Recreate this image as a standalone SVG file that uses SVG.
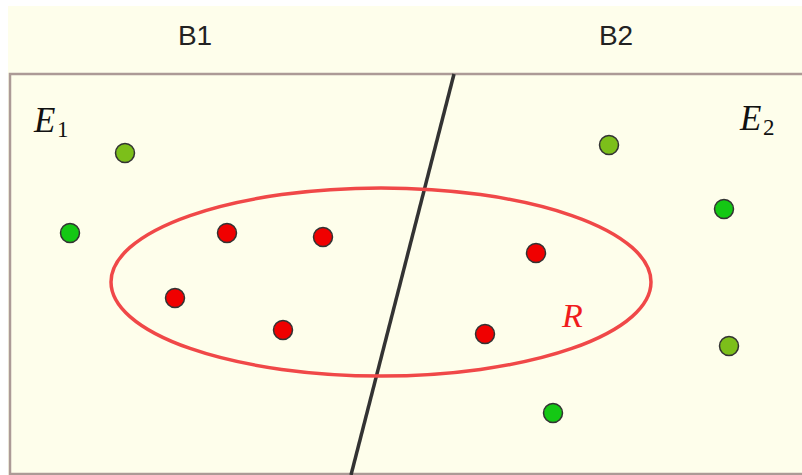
<svg xmlns="http://www.w3.org/2000/svg" width="802" height="475" viewBox="0 0 802 475">
<style>
.hdr{font-family:"Liberation Sans",Arial,sans-serif;font-size:28px;fill:#222;text-anchor:middle}
.math{font-family:"Liberation Serif","Times New Roman",serif;font-style:italic;font-size:35px;fill:#111}
.sub{font-family:"Liberation Serif","Times New Roman",serif;font-size:23px;fill:#111}
.pt{stroke:#333;stroke-width:1.5}
.lime{fill:#7cbf1a}
.green{fill:#14c814}
.red{fill:#f00000}
</style>
<rect x="0" y="0" width="802" height="475" fill="#ffffff"/>
<rect x="8" y="6" width="794" height="469" fill="#fefeeb"/>
<g id="header">
<text class="hdr" x="195" y="45">B1</text>
<text class="hdr" x="616" y="45">B2</text>
</g>
<g id="frame" fill="none" stroke="#ac9a96" stroke-width="2.5">
<polyline points="802,74 10,74 10,474 802,474"/>
</g>
<g id="connectors">
<line x1="454" y1="74" x2="351" y2="475" stroke="#333" stroke-width="3.5"/>
</g>
<g id="region-R">
<ellipse cx="381" cy="282" rx="270" ry="94" fill="none" stroke="#f04848" stroke-width="3.5"/>
<text x="562" y="327" font-family="'Liberation Serif','Times New Roman',serif" font-style="italic" font-size="34" fill="#f01c1c">R</text>
</g>
<g id="E1"><text class="math" x="34" y="132">E</text><text class="sub" x="57" y="137">1</text></g>
<g id="E2"><text class="math" x="740" y="130">E</text><text class="sub" x="763" y="135">2</text></g>
<g id="points">
<circle class="pt lime" cx="125" cy="153" r="9.5"/>
<circle class="pt lime" cx="609" cy="145" r="9.5"/>
<circle class="pt lime" cx="729" cy="346" r="9.5"/>
<circle class="pt green" cx="70" cy="233" r="9.5"/>
<circle class="pt green" cx="724" cy="209" r="9.5"/>
<circle class="pt green" cx="553" cy="413" r="9.5"/>
<circle class="pt red" cx="227" cy="233" r="9.5"/>
<circle class="pt red" cx="323" cy="237" r="9.5"/>
<circle class="pt red" cx="175" cy="298" r="9.5"/>
<circle class="pt red" cx="283" cy="330" r="9.5"/>
<circle class="pt red" cx="536" cy="253" r="9.5"/>
<circle class="pt red" cx="485" cy="334" r="9.5"/>
</g>
</svg>
